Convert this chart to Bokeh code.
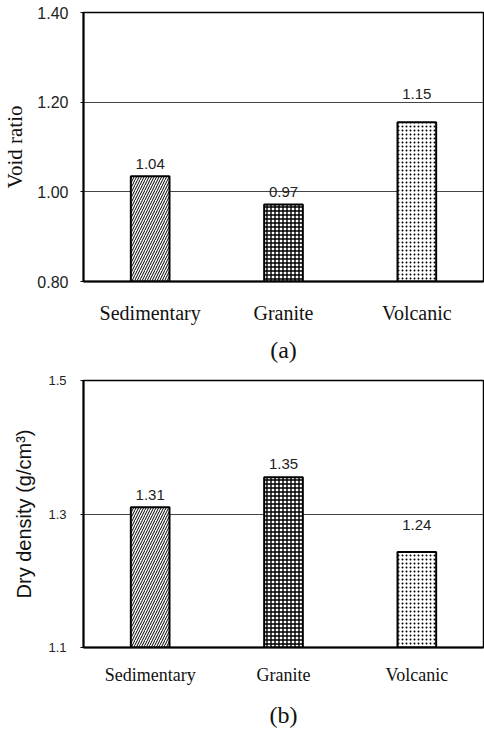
from bokeh.plotting import figure
from bokeh.layouts import column
from bokeh.models import FactorRange, Range1d, FixedTicker, NumeralTickFormatter, ColumnDataSource
from bokeh.core.properties import value
from bokeh.embed import file_html
from bokeh.resources import INLINE

categories = ["Sedimentary", "Granite", "Volcanic"]
void_ratio = [1.035, 0.972, 1.155]
void_labels = ["1.04", "0.97", "1.15"]
dry_density = [1.31, 1.355, 1.243]
dry_labels = ["1.31", "1.35", "1.24"]

hatches = ["right_diagonal_line", "cross", "dot"]
hatch_scales = [5, 4, 4]
hatch_weights = [1, 1.4, 1]
label_offsets_a = [-12, -12, -28]
label_offsets_b = [-12, -13, -27]

SERIF = "Liberation Serif"
SANS = "Liberation Sans"


def make_panel(vals, labels, ystart, yend, ticks, fmt, ylabel, ylabel_font, ylabel_size,
               panel, top_border, offsets, cat_size, cat_standoff, panel_standoff,
               tick_size, tick_standoff, ylabel_standoff, left_border):
    p = figure(width=484, height=365, x_range=FactorRange(*categories, range_padding=0),
               y_range=Range1d(ystart, yend), output_backend="svg", toolbar_location=None,
               min_border_left=left_border, min_border_right=1, min_border_top=top_border,
               min_border_bottom=10)
    p.background_fill_color = "white"
    p.border_fill_color = "white"
    p.outline_line_color = "black"
    p.outline_line_width = 1.5

    src = ColumnDataSource(dict(x=categories, top=vals, label=labels, hatch=hatches,
                                scale=hatch_scales, weight=hatch_weights, off=offsets))
    p.vbar(x="x", top="top", bottom=ystart, width=0.29, source=src,
           fill_color="white", line_color="black", line_width=2,
           hatch_pattern="hatch", hatch_color="black", hatch_scale="scale",
           hatch_weight="weight")
    p.text(x="x", y="top", text="label", source=src, y_offset="off",
           text_align="center", text_baseline="alphabetic",
           text_font=value(SANS), text_font_size="15px", text_color="#222222")

    p.xgrid.visible = False
    p.ygrid.grid_line_color = "#444444"
    p.ygrid.grid_line_width = 1
    p.ygrid.ticker = FixedTicker(ticks=ticks)

    ya = p.yaxis[0]
    ya.ticker = FixedTicker(ticks=ticks)
    ya.formatter = NumeralTickFormatter(format=fmt)
    ya.axis_label = ylabel
    ya.axis_label_text_font = ylabel_font
    ya.axis_label_text_font_size = ylabel_size
    ya.axis_label_text_font_style = "normal"
    ya.axis_label_text_color = "#111111"
    ya.axis_label_standoff = ylabel_standoff
    ya.major_label_text_font = SANS
    ya.major_label_text_font_size = tick_size
    ya.major_label_text_color = "#222222"
    ya.major_label_standoff = tick_standoff
    ya.major_tick_in = 0
    ya.major_tick_out = 3
    ya.minor_tick_line_color = None
    ya.axis_line_width = 2
    ya.axis_line_color = "black"

    xa = p.xaxis[0]
    xa.major_tick_line_color = None
    xa.major_label_text_font = SERIF
    xa.major_label_text_font_size = cat_size
    xa.major_label_text_color = "#111111"
    xa.major_label_standoff = cat_standoff
    xa.axis_line_width = 2
    xa.axis_line_color = "black"
    xa.axis_label = panel
    xa.axis_label_text_font = SERIF
    xa.axis_label_text_font_size = "24px"
    xa.axis_label_text_font_style = "normal"
    xa.axis_label_text_color = "#111111"
    xa.axis_label_standoff = panel_standoff
    return p


pa = make_panel(void_ratio, void_labels, 0.80, 1.40, [0.8, 1.0, 1.2, 1.4], "0.00",
                "Void ratio", SERIF, "21px", "(a)", 12, label_offsets_a,
                "20px", 14, 10, "16px", 12, 7, 83)
pb = make_panel(dry_density, dry_labels, 1.1, 1.5, [1.1, 1.3, 1.5], "0.0",
                "Dry density (g/cm\u00b3)", SANS, "20px", "(b)", 15, label_offsets_b,
                "18px", 11, 14, "13px", 14, 10, 81)

layout = column(pa, pb, spacing=0)
open("out.html", "w").write(file_html(layout, INLINE))
